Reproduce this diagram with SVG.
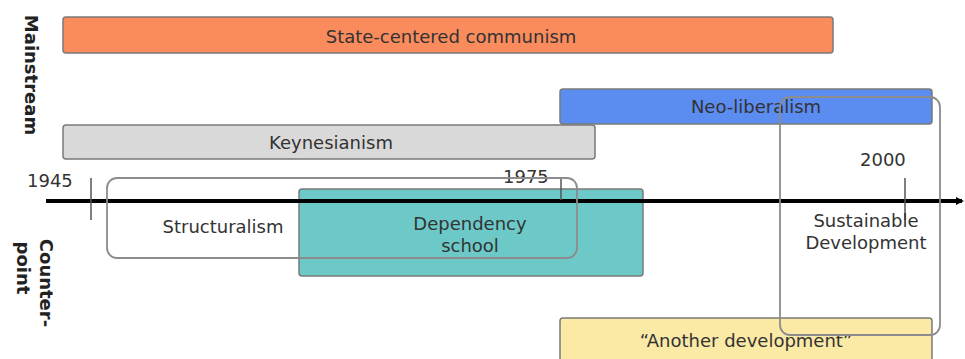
<svg xmlns="http://www.w3.org/2000/svg" width="965" height="359" viewBox="0 0 965 359">
<style>
text{font-family:"DejaVu Sans","Liberation Sans",sans-serif;font-size:18px;fill:#333;}
.c{text-anchor:middle;}
.bar{stroke:#7a7a7a;stroke-width:1.5;}
.open{fill:none;stroke:#8c8c8c;stroke-width:1.8;}
.tick{stroke:#555;stroke-width:1.5;}
.side{font-weight:bold;font-size:18px;fill:#222;}
</style>
<defs>
<marker id="arr" markerWidth="8" markerHeight="8" refX="6" refY="4" orient="auto" markerUnits="userSpaceOnUse">
<path d="M0,0 L8,4 L0,8 Z" fill="#000"/>
</marker>
</defs>
<rect width="965" height="359" fill="#fff"/>
<g id="label-mainstream"><text class="side c" transform="translate(25,75) rotate(90)">Mainstream</text></g>
<g id="label-counterpoint">
<text class="side c" transform="translate(40,283) rotate(90)">Counter-</text>
<text class="side c" transform="translate(17,268) rotate(90)">point</text>
</g>
<g id="communism"><rect class="bar" x="63" y="17" width="770" height="36" rx="3" fill="#f98b5c"/><text class="c" x="451" y="43">State-centered communism</text></g>
<g id="neoliberalism"><rect class="bar" x="560" y="89" width="372" height="35" rx="3" fill="#5b8cf0"/><text class="c" x="756" y="113">Neo-liberalism</text></g>
<g id="keynesianism"><rect class="bar" x="63" y="125" width="532" height="34" rx="3" fill="#d9d9d9"/><text class="c" x="331" y="149">Keynesianism</text></g>
<g id="dependency"><rect class="bar" x="299" y="189" width="344" height="87" rx="3" fill="#6cc9c8"/><text class="c" x="470" y="230">Dependency</text><text class="c" x="470" y="252">school</text></g>
<g id="another"><rect class="bar" x="560" y="318" width="372" height="45" rx="3" fill="#fbe9a6"/><text class="c" x="746" y="347">“Another development”</text></g>
<g id="connectors">
<line x1="46" y1="201" x2="962" y2="201" stroke="#000" stroke-width="4" marker-end="url(#arr)"/>
<line class="tick" x1="91" y1="178" x2="91" y2="220"/>
<line class="tick" x1="905" y1="178" x2="905" y2="220"/>
<line class="tick" x1="561" y1="178" x2="561" y2="200"/>
</g>
<g id="years">
<text x="27" y="187">1945</text>
<text x="503" y="183">1975</text>
<text x="860" y="166">2000</text>
</g>
<g id="structuralism"><rect class="open" x="107" y="178" width="470" height="80" rx="10"/><text class="c" x="223" y="233">Structuralism</text></g>
<g id="sustainable"><rect class="open" x="780" y="97" width="160" height="238" rx="10"/><text class="c" x="866" y="227">Sustainable</text><text class="c" x="866" y="249">Development</text></g>
</svg>
